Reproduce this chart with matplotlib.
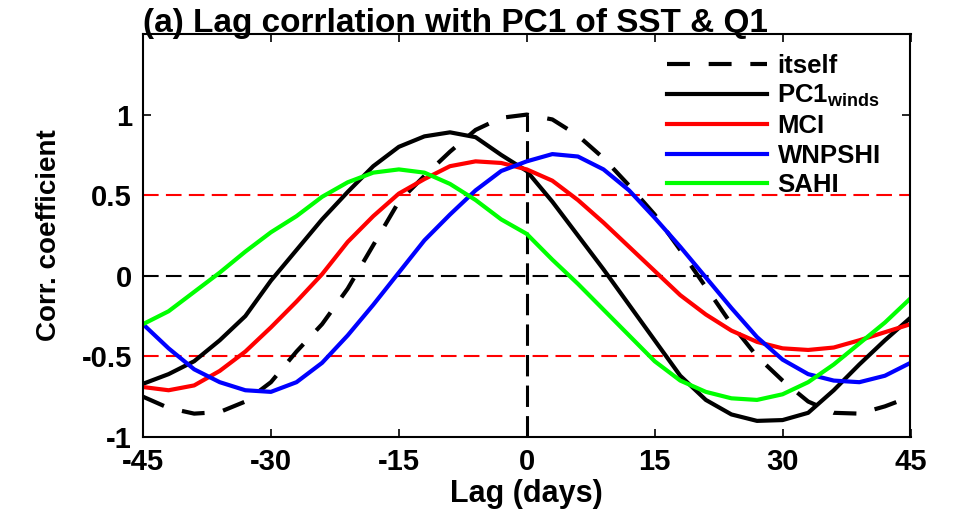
import matplotlib
matplotlib.use('Agg')
import matplotlib.pyplot as plt
import numpy as np

plt.rcParams['font.family'] = ['Liberation Sans', 'DejaVu Sans']
plt.rcParams['font.weight'] = 'bold'
plt.rcParams['mathtext.fontset'] = 'custom'
plt.rcParams['mathtext.rm'] = 'Liberation Sans:bold'
plt.rcParams['mathtext.it'] = 'Liberation Sans:bold'
plt.rcParams['mathtext.bf'] = 'Liberation Sans:bold'

# lag in days
lag = [-45, -42, -39, -36, -33, -30, -27, -24, -21, -18, -15, -12, -9, -6, -3, 0,
       3, 6, 9, 12, 15, 18, 21, 24, 27, 30, 33, 36, 39, 42, 45]

itself = [-0.75, -0.82, -0.855, -0.845, -0.78, -0.66, -0.47, -0.30, -0.08, 0.19, 0.46,
          0.62, 0.77, 0.905, 0.98, 1.0, 0.97, 0.87, 0.73, 0.56, 0.38, 0.16, -0.07,
          -0.30, -0.50, -0.65, -0.78, -0.85, -0.855, -0.81, -0.75]
pc1_winds = [-0.67, -0.61, -0.53, -0.40, -0.25, -0.03, 0.16, 0.35, 0.52, 0.68, 0.80,
             0.865, 0.89, 0.86, 0.75, 0.65, 0.46, 0.25, 0.04, -0.18, -0.40, -0.62,
             -0.77, -0.86, -0.90, -0.895, -0.85, -0.71, -0.55, -0.40, -0.26]
mci = [-0.69, -0.71, -0.68, -0.59, -0.47, -0.32, -0.16, 0.01, 0.21, 0.37, 0.51, 0.60,
       0.68, 0.71, 0.70, 0.66, 0.59, 0.47, 0.33, 0.18, 0.03, -0.12, -0.24, -0.34,
       -0.41, -0.45, -0.46, -0.445, -0.40, -0.35, -0.30]
wnpshi = [-0.30, -0.45, -0.58, -0.66, -0.71, -0.72, -0.66, -0.54, -0.37, -0.18, 0.02,
          0.22, 0.38, 0.53, 0.65, 0.71, 0.755, 0.74, 0.66, 0.53, 0.36, 0.18, -0.01,
          -0.20, -0.38, -0.52, -0.61, -0.65, -0.66, -0.62, -0.54]
sahi = [-0.30, -0.22, -0.10, 0.02, 0.15, 0.27, 0.37, 0.49, 0.58, 0.64, 0.66, 0.64,
        0.57, 0.47, 0.35, 0.26, 0.10, -0.05, -0.21, -0.37, -0.53, -0.65, -0.72,
        -0.76, -0.77, -0.735, -0.66, -0.55, -0.42, -0.29, -0.14]

xticks = [-45, -30, -15, 0, 15, 30, 45]
yticks = [-1, -0.5, 0, 0.5, 1]
yticklabels = ['-1', '-0.5', '0', '0.5', '1']

fig = plt.figure(figsize=(9.54, 5.13), dpi=100)
ax = fig.add_axes([143/954, 1 - 437/513, (910.5 - 143)/954, (437 - 34)/513])

# reference lines
ax.plot([-45, 45], [0.5, 0.5], color='r', lw=1.5, dashes=(7.5, 3.5))
ax.plot([-45, 45], [-0.5, -0.5], color='r', lw=1.5, dashes=(7.5, 3.5))
ax.plot([-45, 45], [0, 0], color='k', lw=1.5, dashes=(7.5, 3.5))
ax.plot([0, 0], [-1, 1], color='k', lw=2.2, dashes=(7, 3))

ax.plot(lag, itself, color='k', lw=3, dashes=(5.5, 4.5), label='itself')
ax.plot(lag, pc1_winds, color='k', lw=3, solid_joinstyle='round', label=r'PC1$_{\mathrm{winds}}$')
ax.plot(lag, mci, color='#ff0000', lw=3, solid_joinstyle='round', label='MCI')
ax.plot(lag, wnpshi, color='#0000ff', lw=3, solid_joinstyle='round', label='WNPSHI')
ax.plot(lag, sahi, color='#00ff00', lw=3, solid_joinstyle='round', label='SAHI')

ax.set_xlim(-45, 45)
ax.set_ylim(-1, 1.5)
ax.set_xticks(xticks)
ax.set_xticklabels([str(t) for t in xticks])
ax.set_yticks(yticks)
ax.set_yticklabels(yticklabels)
ax.tick_params(direction='in', length=6, width=1.2, top=True, right=True,
               labelsize=21, pad=8)
for s in ax.spines.values():
    s.set_linewidth(1.5)

ax.set_xlabel('Lag (days)', fontsize=22, fontweight='bold', labelpad=2)
ax.set_ylabel('Corr. coefficient', fontsize=20, fontweight='bold', labelpad=14)
ax.set_title('(a) Lag corrlation with PC1 of SST & Q1', loc='left', fontsize=24,
             fontweight='bold', pad=1.5)

leg = ax.legend(loc='upper left', bbox_to_anchor=(667/954, 1 - 54/513),
                bbox_transform=fig.transFigure, frameon=False, fontsize=18.5,
                handlelength=3.9, handletextpad=0.4, labelspacing=0.2,
                borderpad=0, borderaxespad=0)

fig.savefig('out.png', dpi=100)
